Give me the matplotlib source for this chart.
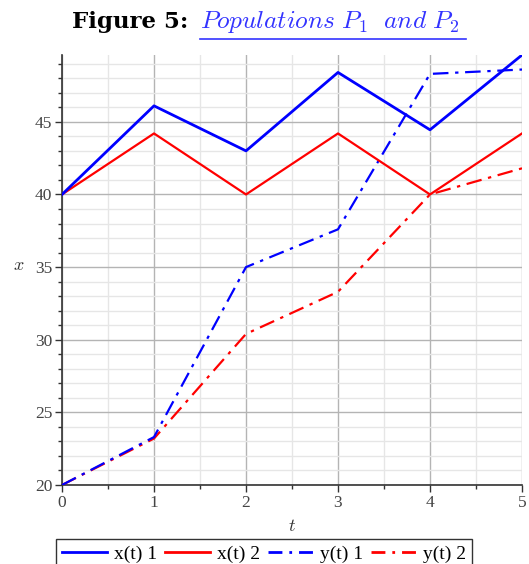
import matplotlib
matplotlib.use("Agg")
import matplotlib.pyplot as plt
from matplotlib.lines import Line2D
from matplotlib.ticker import MultipleLocator

t = [0, 1, 2, 3, 4, 5]
x1 = [40, 46.1, 43.0, 48.4, 44.45, 49.6]
x2 = [40, 44.2, 40.0, 44.2, 40.0, 44.2]
y1 = [20, 23.3, 35.0, 37.6, 48.3, 48.6]
y2 = [20, 23.2, 30.4, 33.3, 40.0, 41.8]
labels = ["x(t) 1", "x(t) 2", "y(t) 1", "y(t) 2"]

plt.rcParams['mathtext.fontset'] = 'cm'
plt.rcParams['font.family'] = ['Liberation Serif', 'DejaVu Serif']

fig = plt.figure(figsize=(5.29, 5.64), dpi=100)
ax = fig.add_axes([62/529, 1-485/564, 460/529, 430/564])

dd = (0, (7, 3, 1.5, 3))
ax.plot(t, y2, color='#ff0000', lw=1.6, ls=dd, label=labels[3], zorder=3)
ax.plot(t, y1, color='#0000ff', lw=1.6, ls=dd, label=labels[2], zorder=3)
ax.plot(t, x2, color='#ff0000', lw=1.6, label=labels[1], zorder=4)
ax.plot(t, x1, color='#0000ff', lw=2.0, label=labels[0], zorder=4)

ax.set_xlim(0, 5)
ax.set_ylim(20, 49.6)
ax.xaxis.set_major_locator(MultipleLocator(1))
ax.xaxis.set_minor_locator(MultipleLocator(0.5))
ax.yaxis.set_major_locator(MultipleLocator(5))
ax.yaxis.set_minor_locator(MultipleLocator(1))
ax.grid(which='major', color='#b4b4b4', lw=1.0, zorder=0)
ax.grid(which='minor', color='#e6e6e6', lw=1.0, zorder=0)
ax.set_axisbelow(True)
for s in ['top', 'right']:
    ax.spines[s].set_visible(False)
for s in ['left', 'bottom']:
    ax.spines[s].set_color('#333333')
    ax.spines[s].set_linewidth(1.2)
ax.tick_params(which='major', length=5, width=1, color='#333333', labelsize=12.5,
               labelcolor='#444444', pad=2)
ax.tick_params(which='minor', length=3, width=1, color='#333333')
ax.set_xlabel('$t$', fontsize=13, labelpad=5, color='#333333')
ax.set_ylabel('$x$', fontsize=13, rotation=0, color='#333333')
ax.yaxis.set_label_coords(-0.095, 0.49)

ldd = (0, (5, 2.5, 1, 2.5))
handles = [Line2D([], [], color='#0000ff', lw=2),
           Line2D([], [], color='#ff0000', lw=2),
           Line2D([], [], color='#0000ff', lw=2, ls=ldd),
           Line2D([], [], color='#ff0000', lw=2, ls=ldd)]
leg = fig.legend(handles, labels, loc='upper left', bbox_to_anchor=(56/529, 1-539/564),
                 ncol=4, frameon=True, fancybox=False, edgecolor='black', fontsize=14,
                 handlelength=2.3, handletextpad=0.37, columnspacing=0.42, borderpad=0.3,
                 borderaxespad=0)
leg.get_frame().set_linewidth(1.0)

fig.text(188/529, 1-22/564, 'Figure 5:', fontsize=16.5, ha='right', va='center',
         family='DejaVu Serif', weight='bold')
fig.text(200/529, 1-22/564, r'$\mathit{Populations}\ P_1\ \ \mathit{and}\ P_2$', fontsize=18.3,
         ha='left', va='center', color='#3333ff')
fig.add_artist(Line2D([200/529, 466/529], [1-39/564, 1-39/564], color='#3333ff', lw=1.2))

fig.savefig('out.png', dpi=100)
